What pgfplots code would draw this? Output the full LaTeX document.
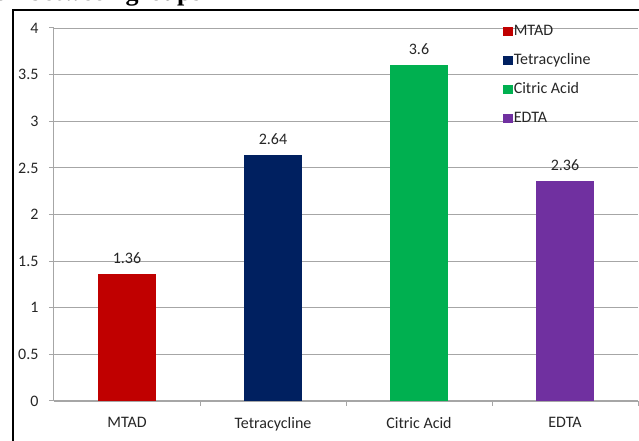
\documentclass[border=0pt]{standalone}
\usepackage{pgfplots}
\pgfplotsset{compat=1.18}
\usepackage{fontspec}
\setmainfont{Carlito}
\newfontfamily\titlefont{Liberation Serif}
\usetikzlibrary{calc}

\definecolor{cMTAD}{HTML}{C00000}
\definecolor{cTetra}{HTML}{002060}
\definecolor{cCitric}{HTML}{00B050}
\definecolor{cEDTA}{HTML}{7030A0}
\definecolor{gridgray}{HTML}{A6A6A6}
\definecolor{txt}{HTML}{262626}

\begin{document}
\begin{tikzpicture}
\begin{axis}[
  scale only axis, width=584pt, height=373pt,
  xmin=-0.5, xmax=3.5, ymin=0, ymax=4,
  axis x line*=bottom, axis y line*=left,
  axis line style={gridgray, line width=1pt},
  ytick={0,0.5,...,4},
  ymajorgrids, grid style={gridgray, line width=0.9pt},
  xtick={0,1,2,3},
  xticklabels={MTAD,Tetracycline,Citric Acid,EDTA},
  minor xtick={0.5,1.5,2.5,3.5},
  tick align=outside,
  major tick length=5pt, minor tick length=5pt,
  major x tick style={draw=none},
  tick style={gridgray, line width=1pt},
  minor tick style={gridgray, line width=1pt},
  /pgf/number format/assume math mode=true,
  tick label style={font=\fontsize{16}{18}\selectfont, text=txt},
  yticklabel style={xshift=-7pt},
  xticklabel style={yshift=-8pt},
  ybar, bar width=58pt, bar shift=0pt,
  nodes near coords,
  every node near coord/.append style={font=\fontsize{16}{18}\selectfont, text=txt, yshift=7pt},
  legend style={at={(0.769,1.0115)}, anchor=north west, draw=none, fill=none,
    font=\fontsize{16}{18}\selectfont, text=txt,
    row sep=12.5pt, inner sep=0pt,
    nodes={inner sep=1pt, text height=11pt, text depth=3.5pt}},
  legend cell align=left,
  legend image code/.code={\fill[#1] (0pt,-4.2pt) rectangle (9.5pt,5.3pt);},
]
\addplot[fill=cMTAD, draw=none] coordinates {(0,1.36)};
\addplot[fill=cTetra, draw=none] coordinates {(1,2.64)};
\addplot[fill=cCitric, draw=none] coordinates {(2,3.6)};
\addplot[fill=cEDTA, draw=none] coordinates {(3,2.36)};
\legend{MTAD,Tetracycline,Citric Acid,EDTA}
\coordinate (bl) at (rel axis cs:0,0);
\end{axis}
% page area: 639 x 441, the plot box starts 54 in and 40 up
\pgfresetboundingbox
\coordinate (pg) at ($(bl)+(-54pt,-40pt)$);
\useasboundingbox (pg) rectangle ($(pg)+(639pt,441pt)$);
% heading, mostly above the page
\node[anchor=base east,inner sep=0,font=\titlefont\bfseries\fontsize{26}{28}\selectfont]
  at ($(pg)+(202pt,440.5pt)$) {Comparison between groups};
% chart frame
\draw[line width=2pt] ($(pg)+(13pt,-5pt)$) -- ($(pg)+(13pt,431pt)$) -- ($(pg)+(650pt,431pt)$);
\end{tikzpicture}
\end{document}
